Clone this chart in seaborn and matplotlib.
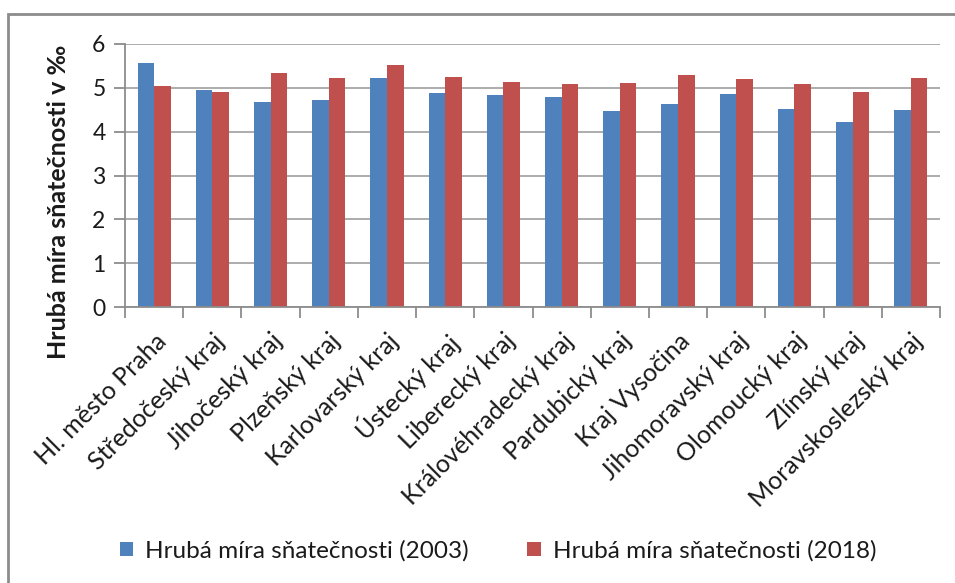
import matplotlib
matplotlib.use("Agg")
import matplotlib.pyplot as plt
from matplotlib.patches import Rectangle
from matplotlib.ticker import FixedLocator
import seaborn as sns
import pandas as pd
import numpy as np

regions = [
    "Hl. město Praha", "Středočeský kraj", "Jihočeský kraj", "Plzeňský kraj",
    "Karlovarský kraj", "Ústecký kraj", "Liberecký kraj", "Královéhradecký kraj",
    "Pardubický kraj", "Kraj Vysočina", "Jihomoravský kraj", "Olomoucký kraj",
    "Zlínský kraj", "Moravskoslezský kraj",
]
rate_2003 = [5.57, 4.96, 4.68, 4.73, 5.22, 4.88, 4.84, 4.79, 4.47, 4.64, 4.87, 4.52, 4.23, 4.49]
rate_2018 = [5.04, 4.90, 5.34, 5.22, 5.52, 5.25, 5.13, 5.08, 5.11, 5.29, 5.20, 5.08, 4.90, 5.22]
series_labels = ["Hrubá míra sňatečnosti (2003)", "Hrubá míra sňatečnosti (2018)"]
y_label = "Hrubá míra sňatečnosti v ‰"

df = pd.DataFrame({
    "kraj": regions * 2,
    "hodnota": rate_2003 + rate_2018,
    "rada": [series_labels[0]] * len(regions) + [series_labels[1]] * len(regions),
})

sns.set_theme(style="white")
plt.rcParams["font.family"] = ["Lato", "DejaVu Sans"]

W, H = 955, 583
fig = plt.figure(figsize=(W / 100, H / 100), dpi=100)
ax = fig.add_axes([125 / W, 1 - 307 / H, 815 / W, 263 / H])

palette = ["#4F81BD", "#C0504D"]
sns.barplot(data=df, x="kraj", y="hodnota", hue="rada", palette=palette,
            width=0.57, dodge=True, ax=ax, legend=False,
            edgecolor="none", linewidth=0, saturation=1)

ax.set_ylim(0, 6)
ax.set_xlim(-0.5, len(regions) - 0.5)
ax.set_yticks(range(0, 7))
ax.yaxis.grid(True, color="#a6a6a6", linewidth=1.3)
ax.set_axisbelow(True)
for side in ("top", "right"):
    ax.spines[side].set_visible(False)
for side in ("left", "bottom"):
    ax.spines[side].set_color("#8c8c8c")
    ax.spines[side].set_linewidth(1.3)

ax.tick_params(axis="y", which="major", left=True, length=8, width=1.3,
               color="#8c8c8c", labelsize=16.5, pad=6, labelcolor="#1a1a1a")
# category ticks sit between the groups; labels sit at group centres
ax.xaxis.set_minor_locator(FixedLocator(np.arange(-0.5, len(regions), 1.0)))
ax.tick_params(axis="x", which="minor", bottom=True, length=8, width=1.3, color="#8c8c8c")
ax.tick_params(axis="x", which="major", bottom=False, labelsize=18, pad=10, labelcolor="#1a1a1a")
ax.set_xticks(range(len(regions)))
ax.set_xticklabels(regions, rotation=45, ha="right", va="top", rotation_mode="anchor")
ax.set_xlabel("")
ax.set_ylabel("")

fig.text(58 / W, 1 - 202 / H, y_label, rotation=90, ha="center", va="center",
         fontsize=18, fontweight="bold", color="#1a1a1a")

handles = [Rectangle((0, 0), 1, 1, facecolor=c, edgecolor="none") for c in palette]
fig.legend(handles, series_labels, loc="center", bbox_to_anchor=(498 / W, 1 - 551 / H),
           ncol=2, frameon=False, fontsize=17.5, handlelength=0.55, handleheight=0.55,
           handletextpad=0.5, columnspacing=2.4, labelcolor="#1a1a1a")

# chart-area frame
fig.patches.append(Rectangle((8 / W, -0.1), 1.2, 1.1 - 14 / H, transform=fig.transFigure,
                             fill=False, edgecolor="#8c8c8c", linewidth=2, zorder=-1))

fig.savefig("out.png", dpi=100)
